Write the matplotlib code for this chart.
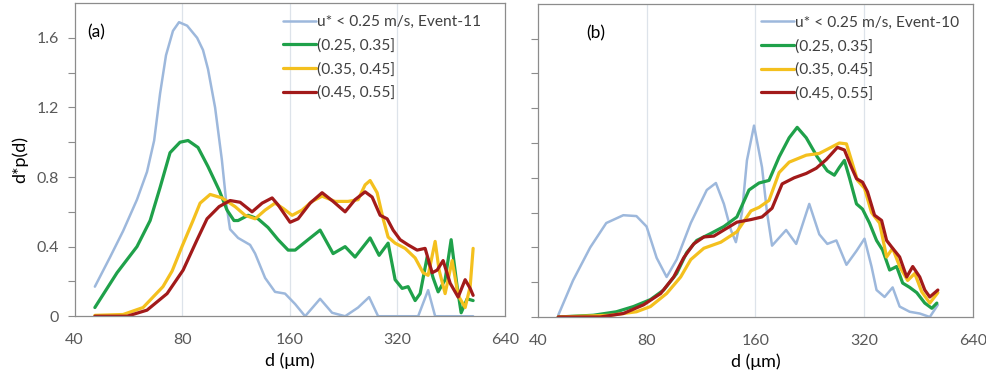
import matplotlib
matplotlib.use("Agg")
import matplotlib.pyplot as plt
from matplotlib.ticker import FixedLocator, NullFormatter

plt.rcParams['font.family'] = ['Lato', 'DejaVu Sans']

# ---- panel (a) ----
a_blue_d = [45.6, 50.3, 54.7, 59.8, 63.8, 66.8, 69.4, 72.1, 75.4, 78.4, 82.6, 88.1, 91.5,
            94.5, 98.9, 103.3, 106.6, 108.9, 114.7, 123.9, 128.0, 136.5, 145.5, 155.2,
            165.6, 176.6, 194.5, 210.1, 228.5, 248.4, 266.7, 282.6, 365.7, 390.0, 408.0, 521.1]
a_blue_y = [0.17, 0.34, 0.49, 0.67, 0.83, 1.01, 1.28, 1.50, 1.64, 1.69, 1.67, 1.60, 1.53,
            1.42, 1.20, 0.90, 0.63, 0.50, 0.45, 0.41, 0.36, 0.22, 0.14, 0.13,
            0.07, 0.0, 0.10, 0.02, 0.0, 0.05, 0.11, 0.0, 0.0, 0.15, 0.0, 0.0]

a_green_d = [45.6, 52.6, 59.8, 65.1, 69.4, 74.0, 78.9, 83.1, 88.6, 94.5, 101.5, 106.8, 111.7,
             114.7, 122.3, 130.4, 139.1, 148.4, 158.3, 165.6, 180.0, 194.5, 211.5, 228.5,
             243.6, 268.4, 284.4, 301.4, 315.3, 329.9, 342.8, 358.7, 370.4, 387.5, 402.8,
             416.0, 435.1, 452.3, 470.1, 482.4, 501.4, 521.1]
a_green_y = [0.05, 0.25, 0.40, 0.55, 0.74, 0.94, 1.00, 1.01, 0.97, 0.86, 0.725, 0.61, 0.55,
             0.55, 0.58, 0.56, 0.51, 0.44, 0.38, 0.38, 0.44, 0.495, 0.36, 0.40,
             0.34, 0.45, 0.35, 0.42, 0.21, 0.16, 0.17, 0.09, 0.13, 0.34, 0.22,
             0.14, 0.21, 0.44, 0.17, 0.02, 0.10, 0.09]

a_yellow_d = [45.6, 54.7, 62.2, 70.7, 75.0, 79.9, 85.8, 89.8, 95.8, 103.4, 112.5, 120.0,
              128.0, 136.5, 145.5, 153.2, 162.4, 173.2, 184.7, 197.0, 214.2, 232.9, 248.4,
              259.9, 268.4, 280.8, 291.9, 301.4, 315.3, 336.3, 358.7, 377.6, 390.0, 408.0,
              418.6, 435.1, 455.2, 473.1, 495.0, 511.2, 521.1]
a_yellow_y = [0.005, 0.01, 0.05, 0.17, 0.26, 0.40, 0.55, 0.65, 0.70, 0.68, 0.63, 0.58,
              0.56, 0.61, 0.65, 0.62, 0.58, 0.61, 0.66, 0.69, 0.66, 0.66, 0.67,
              0.755, 0.78, 0.71, 0.56, 0.455, 0.42, 0.39, 0.335, 0.25, 0.235, 0.43,
              0.265, 0.13, 0.32, 0.12, 0.05, 0.17, 0.39]

a_red_d = [45.6, 56.1, 63.8, 72.6, 80.5, 88.1, 93.9, 101.5, 108.9, 116.2, 125.5, 133.9,
           142.8, 148.4, 160.3, 168.8, 182.4, 197.0, 211.5, 228.5, 243.6, 259.9, 271.9,
           286.3, 299.5, 311.3, 325.6, 342.8, 363.3, 382.5, 400.2, 413.3, 429.5, 449.4,
           473.1, 495.0, 511.2, 521.1]
a_red_y = [0.0, 0.0, 0.035, 0.13, 0.265, 0.44, 0.56, 0.63, 0.665, 0.655, 0.60, 0.65,
           0.68, 0.64, 0.54, 0.56, 0.65, 0.71, 0.66, 0.60, 0.67, 0.715, 0.685,
           0.58, 0.56, 0.495, 0.44, 0.41, 0.38, 0.39, 0.25, 0.265, 0.32, 0.19,
           0.11, 0.21, 0.16, 0.12]

# ---- panel (b) ----
b_blue_d = [45.5, 50.0, 55.8, 61.8, 68.9, 74.9, 79.9, 85.2, 90.8, 96.8, 105.9, 117.3, 124.3,
            130.8, 136.8, 141.2, 146.8, 151.5, 158.5, 166.8, 172.2, 177.8, 194.5, 207.4,
            225.4, 240.3, 252.9, 267.9, 285.7, 304.6, 320.5, 335.2, 346.1, 364.3, 383.5,
            401.0, 427.6, 455.8, 486.0, 511.6]
b_blue_y = [0.01, 0.21, 0.40, 0.54, 0.585, 0.58, 0.52, 0.34, 0.23, 0.33, 0.54, 0.73, 0.77,
            0.65, 0.50, 0.43, 0.60, 0.90, 1.10, 0.86, 0.60, 0.41, 0.50, 0.42,
            0.65, 0.475, 0.42, 0.44, 0.30, 0.38, 0.45, 0.29, 0.155, 0.115, 0.17,
            0.06, 0.03, 0.02, 0.0, 0.07]

b_green_d = [45.5, 56.9, 65.9, 73.5, 81.9, 89.1, 96.8, 103.2, 110.0, 120.3, 130.8, 142.1,
             153.5, 163.6, 174.4, 186.0, 198.3, 208.7, 221.1, 237.2, 252.9, 264.5, 273.1,
             282.0, 291.2, 304.6, 316.5, 330.9, 346.1, 359.7, 376.2, 393.4, 408.8, 427.6,
             447.2, 470.7, 492.3, 508.3]
b_green_y = [0.0, 0.01, 0.03, 0.06, 0.10, 0.155, 0.25, 0.37, 0.44, 0.48, 0.52, 0.575,
             0.73, 0.77, 0.785, 0.92, 1.03, 1.09, 1.03, 0.92, 0.84, 0.815, 0.86,
             0.90, 0.80, 0.65, 0.62, 0.54, 0.44, 0.385, 0.27, 0.29, 0.195, 0.17,
             0.14, 0.08, 0.05, 0.08]

b_yellow_d = [45.5, 63.4, 74.9, 81.9, 90.8, 99.3, 105.9, 115.1, 128.3, 142.1, 155.5, 163.6,
              174.4, 186.0, 198.3, 221.1, 240.3, 256.2, 273.1, 285.7, 295.0, 306.5, 320.5,
              335.2, 352.8, 369.0, 383.5, 401.0, 422.1, 441.5, 461.7, 486.0, 511.6]
b_yellow_y = [0.0, 0.01, 0.03, 0.06, 0.135, 0.23, 0.33, 0.395, 0.43, 0.49, 0.61, 0.63,
              0.67, 0.83, 0.89, 0.93, 0.94, 0.97, 1.00, 0.995, 0.90, 0.785, 0.74,
              0.60, 0.54, 0.345, 0.395, 0.29, 0.21, 0.25, 0.145, 0.08, 0.14]

b_red_d = [45.5, 59.5, 68.9, 78.4, 87.4, 95.0, 101.2, 107.9, 115.1, 122.7, 130.8, 142.1,
           155.5, 166.8, 177.8, 189.6, 204.7, 221.1, 235.7, 251.3, 269.7, 282.0, 295.0,
           304.6, 316.5, 326.7, 341.7, 357.4, 369.0, 383.5, 401.0, 419.4, 435.9, 455.8,
           470.7, 486.0, 511.6]
b_red_y = [0.0, 0.0, 0.02, 0.07, 0.135, 0.23, 0.34, 0.42, 0.46, 0.465, 0.50, 0.545,
           0.56, 0.575, 0.625, 0.765, 0.80, 0.825, 0.855, 0.905, 0.975, 0.96, 0.86,
           0.795, 0.775, 0.72, 0.585, 0.555, 0.44, 0.395, 0.345, 0.23, 0.29, 0.23,
           0.155, 0.115, 0.155]

labels_a = ['u* < 0.25 m/s, Event-11', '(0.25, 0.35]', '(0.35, 0.45]', '(0.45, 0.55]']
labels_b = ['u* < 0.25 m/s, Event-10', '(0.25, 0.35]', '(0.35, 0.45]', '(0.45, 0.55]']
xticks = [40, 80, 160, 320, 640]
colors = ['#9DB8DC', '#1FA14A', '#F4C01E', '#A21A1A']
widths = [1.8, 2.3, 2.3, 2.3]

fig = plt.figure(figsize=(9.87, 3.81), dpi=100)
ax_a = fig.add_axes([0.0755, 0.170, 0.4362, 0.822])
ax_b = fig.add_axes([0.5451, 0.168, 0.4407, 0.822])

panels = [
    (ax_a, [(a_blue_d, a_blue_y), (a_green_d, a_green_y), (a_yellow_d, a_yellow_y), (a_red_d, a_red_y)],
     labels_a, '(a)', 0.03, 0.484),
    (ax_b, [(b_blue_d, b_blue_y), (b_green_d, b_green_y), (b_yellow_d, b_yellow_y), (b_red_d, b_red_y)],
     labels_b, '(b)', 0.112, 0.513),
]

tick_col = '#595959'
for ax, series, labels, tag, tagx, legx in panels:
    ax.set_xscale('log', base=2)
    ax.set_xlim(40, 640)
    ax.set_ylim(0, 1.8)
    for g in [80, 160, 320]:
        ax.axvline(g, color='#DDE3EA', lw=0.9, zorder=0)
    for (d, y), c, w, lab in zip(series, colors, widths, labels):
        ax.plot(d, y, color=c, lw=w, label=lab, solid_joinstyle='round', solid_capstyle='round')
    ax.xaxis.set_major_locator(FixedLocator(xticks))
    ax.xaxis.set_minor_locator(FixedLocator([]))
    ax.set_xticklabels([str(t) for t in xticks])
    ax.tick_params(axis='x', length=0, pad=12, labelsize=11.5, labelcolor=tick_col)
    ax.yaxis.set_major_locator(FixedLocator([0, 0.4, 0.8, 1.2, 1.6]))
    ax.yaxis.set_minor_locator(FixedLocator([0.2, 0.6, 1.0, 1.4]))
    ax.tick_params(axis='y', which='both', direction='out', length=5, width=0.8,
                   color='#8C8C8C', labelsize=11.5, labelcolor=tick_col, pad=6)
    for s in ax.spines.values():
        s.set_color('#8C8C8C')
        s.set_linewidth(0.9)
    ax.set_xlabel('d (\u03bcm)', fontsize=13, labelpad=4)
    ax.text(tagx, 0.905, tag, transform=ax.transAxes, fontsize=12.5, va='center')
    leg = ax.legend(loc='upper left', bbox_to_anchor=(legx, 0.962), frameon=False,
                    fontsize=11.2, handlelength=2.1, handletextpad=0.1,
                    labelspacing=0.6, borderaxespad=0, borderpad=0)
    for t in leg.get_texts():
        t.set_color('#404040')

ax_a.set_yticklabels(['0', '0.4', '0.8', '1.2', '1.6'])
ax_a.set_ylabel('d*p(d)', fontsize=13, labelpad=6)
ax_b.yaxis.set_major_formatter(NullFormatter())

fig.savefig('out.png', dpi=100)
